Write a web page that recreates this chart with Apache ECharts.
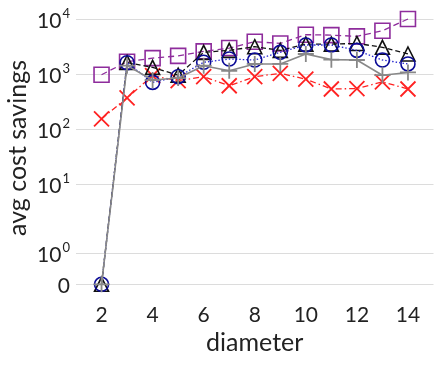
<!DOCTYPE html>
<html><head><meta charset="utf-8">
<script src="https://cdn.jsdelivr.net/npm/echarts@6/dist/echarts.min.js"></script>
<style>html,body{margin:0;padding:0;background:#fff}#c{width:440px;height:365px}</style>
</head><body><div id="c"></div>
<script>
const diameters = [2,3,4,5,6,7,8,9,10,11,12,13,14];
const squaresPurple = [1000,1720,2000,2200,2650,3050,3980,3700,5340,5250,4980,6300,10300];
const trianglesBlack = [0,1670,1360,980,2550,2770,3230,2770,3600,3600,3700,3150,2380];
const circlesBlue = [0,1650,725,920,1680,1930,1850,2550,3470,3470,2770,1850,1570];
const plusGray = [0,1460,800,870,1460,1180,1570,1570,2380,1880,1850,980,1100];
const crossRed = [158,380,960,780,920,630,920,1060,830,550,560,740,550];
const yTickValues = [0,1,10,100,1000,10000];
const yTickLabels = ['0','10^0','10^1','10^2','10^3','10^4'];
const xTickValues = [2,4,6,8,10,12,14];

// symmetric log transform (linthresh=2, linscale=1)
const LT = 2, ADJ = 1/(1-1/10);
function sym(v){ const a=Math.abs(v); return a<=LT ? v*ADJ : Math.sign(v)*LT*(ADJ+Math.log10(a/LT)); }
const pts = arr => arr.map((v,i)=>[diameters[i], sym(v)]);

const FONT = 'Lato';
const chart = echarts.init(document.getElementById('c'));
const hollow = c => ({color:'rgba(0,0,0,0)', borderColor:c, borderWidth:1.6});
const labelMap = {};
yTickValues.forEach((v,i)=>labelMap[sym(v).toFixed(4)] = yTickLabels[i]);

chart.setOption({
  animation:false,
  grid:{left:76, right:6.5, top:6.5, bottom:69.7, containLabel:false},
  xAxis:{type:'value', min:1, max:15,
    axisLine:{show:false}, axisTick:{show:false}, splitLine:{show:false},
    axisLabel:{customValues:xTickValues, fontFamily:FONT, fontSize:21, color:'#222', margin:9},
    name:'diameter', nameLocation:'middle', nameGap:34,
    nameTextStyle:{fontFamily:FONT, fontSize:25, color:'#222'}},
  yAxis:{type:'value', min:-0.4, max:10.1,
    axisLine:{show:false},
    axisTick:{show:false, customValues:yTickValues.map(sym)},
    splitLine:{show:true, lineStyle:{color:'#dcdcdc', width:1}},
    axisLabel:{customValues:yTickValues.map(sym), margin:6, color:'#222',
      formatter:function(v){ const s=labelMap[Number(v).toFixed(4)]||''; if(s.indexOf('^')<0) return '{b|'+s+'}'; const p=s.split('^'); return '{b|'+p[0]+'}{s|'+p[1]+'}'; },
      rich:{b:{fontFamily:FONT,fontSize:21,color:'#222',lineHeight:24,verticalAlign:'bottom'}, s:{fontFamily:FONT,fontSize:13,color:'#222',lineHeight:24,verticalAlign:'top', padding:[0,0,0,1]}}}},
  graphic:[{type:'text', x:18, y:148, rotation:Math.PI/2, style:{text:'avg cost savings', fontFamily:FONT, fontSize:25, fill:'#222', textAlign:'center', textVerticalAlign:'middle'}}],
  series:[
    {type:'line', data:pts(squaresPurple), symbol:'rect', symbolSize:15, itemStyle:hollow('#8e2c9c'), lineStyle:{color:'#8e2c9c', width:1.3, type:[6,4]}, z:2},
    {type:'line', data:pts(crossRed), symbol:'path://M0,0L10,10M10,0L0,10', symbolSize:15, itemStyle:{color:'rgba(0,0,0,0)', borderColor:'#ff2222', borderWidth:1.8}, lineStyle:{color:'#ff2222', width:1.3, type:[6,3,1.5,3]}, z:3},
    {type:'line', data:pts(trianglesBlack), symbol:'triangle', symbolSize:14, itemStyle:hollow('#111'), lineStyle:{color:'#111', width:1.3, type:[5,3]}, z:4},
    {type:'line', data:pts(circlesBlue), symbol:'circle', symbolSize:14, itemStyle:hollow('#0a0a96'), lineStyle:{color:'#2a2ad0', width:1.3, type:[1.5,2]}, z:5},
    {type:'line', data:pts(plusGray), symbol:'path://M5,0L5,10M0,5L10,5', symbolSize:16, itemStyle:{color:'rgba(0,0,0,0)', borderColor:'#888', borderWidth:1.8}, lineStyle:{color:'#888', width:1.6}, z:6}
  ]
});
</script></body></html>
